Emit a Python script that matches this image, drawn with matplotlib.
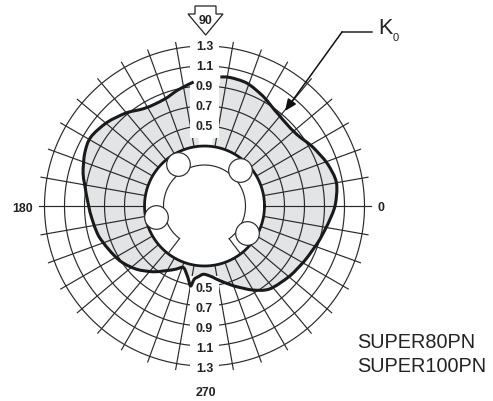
import numpy as np
import matplotlib
matplotlib.use("Agg")
import matplotlib.pyplot as plt
from matplotlib.patches import PathPatch, Polygon
from matplotlib.path import Path

FONT = ['Liberation Sans', 'DejaVu Sans']

# K0 curve, counter clockwise from just left of 90 deg
angles = [95, 103, 111, 121, 130, 139.5, 149, 156, 165, 173.5, 183, 196, 213, 223, 232,
          246, 251, 255.4, 258, 260.2, 262, 265, 269, 274, 279.5, 290, 300, 308, 321, 331,
          344, 352, 360, 370, 379, 389, 399, 411, 422, 431, 439, 443]
k0 = [0.945, 0.89, 0.84, 0.844, 0.916, 0.985, 1.03, 1.01, 0.957, 0.893, 0.847, 0.80, 0.708, 0.628, 0.535,
      0.39, 0.351, 0.406, 0.46, 0.512, 0.44, 0.41, 0.383, 0.40, 0.443, 0.55, 0.671, 0.754, 0.805, 0.84,
      0.902, 0.949, 1.005, 1.04, 1.0, 0.93, 0.865, 0.877, 0.945, 1.0, 1.01, 1.0]
rings = [0.5, 0.7, 0.9, 1.1, 1.3]
spokes = [a for a in range(0, 360, 10) if a not in (90, 270)]
bolt_angles = [122, 45.4, 193, 327.8]
bolt_r = 0.2


def smooth_path(x, y):
    # bezier through the read points, so the curve is not a polygon
    pts = np.column_stack([x, y])
    verts = [pts[0]]
    codes = [Path.MOVETO]
    for i in range(len(pts) - 1):
        p0 = pts[max(i - 1, 0)]
        p1 = pts[i]
        p2 = pts[i + 1]
        p3 = pts[min(i + 2, len(pts) - 1)]
        verts += [p1 + (p2 - p0) / 6, p2 - (p3 - p1) / 6, p2]
        codes += [Path.CURVE4] * 3
    return np.array(verts), codes


fig = plt.figure(figsize=(4.93, 4.02), dpi=100)
rmax_px = 170
ax = fig.add_axes([(204.5 - rmax_px) / 493, (402 - 207 - rmax_px) / 402,
                   2 * rmax_px / 493, 2 * rmax_px / 402], projection='polar')
ax.set_rlim(-0.3, 1.4)
ax.axis('off')

th = np.radians(angles)
full = np.radians(np.linspace(0, 360, 361))
verts, codes = smooth_path(th, k0)

# gray area between the hub ring and the curve
back = np.column_stack([np.linspace(th[-1], th[0], 200), np.full(200, 0.3)])
fill_verts = np.vstack([verts, back])
fill_codes = codes + [Path.LINETO] * 200
ax.add_patch(PathPatch(Path(fill_verts, fill_codes), facecolor='#e3e4e6', lw=0, zorder=1))

for r in rings:
    ax.plot(full, np.full_like(full, r), color='#2a2a2a', lw=0.85, zorder=2)
for a in spokes:
    ax.plot(np.radians([a, a]), [0.3, 1.36], color='#2a2a2a', lw=0.85, zorder=2)

ax.plot(full, np.full_like(full, 0.3), color='#1a1a1a', lw=2.0, zorder=3)

# hub outline with the slot
hub = np.radians(np.linspace(-53, 232.5, 200))
ax.plot(hub, np.full_like(hub, 0.11), color='#2a2a2a', lw=0.85, zorder=3)
ax.plot(np.radians([232.5, 232.5]), [0.11, 0.3], color='#2a2a2a', lw=0.85, zorder=3)
ax.plot(np.radians([307, 307]), [0.11, 0.3], color='#2a2a2a', lw=0.85, zorder=3)
ax.scatter(np.radians(bolt_angles), [bolt_r] * 4, s=290, facecolor='white', edgecolor='#2a2a2a',
           linewidth=0.85, zorder=4)

# ring labels on both vertical axes
box = dict(facecolor='white', edgecolor='none', pad=4.5)
for r in rings:
    ax.text(np.radians(90), r, f'{r:.1f}', ha='center', va='center', family=FONT,
            fontsize=8.9, fontweight='bold', color='#222222', bbox=box, zorder=5)
    ax.text(np.radians(270), r + 0.025, f'{r:.1f}', ha='center', va='center', family=FONT,
            fontsize=8.9, fontweight='bold', color='#222222', bbox=box, zorder=5)

ax.add_patch(PathPatch(Path(verts, codes), facecolor='none', edgecolor='#1a1a1a', lw=2.2,
                       capstyle='butt', zorder=6))

# overlay in pixels for the annotations
ov = fig.add_axes([0, 0, 1, 1])
ov.set_xlim(0, 493)
ov.set_ylim(402, 0)
ov.axis('off')
ov.patch.set_alpha(0)

lab = dict(family=FONT, fontweight='bold', color='#222222', ha='center', va='center', fontsize=8.9)
ov.text(23, 209, '180', **lab)
ov.text(381, 208, '0', **lab)
ov.text(206, 393, '270', **lab)
ov.add_patch(Polygon([(195, 7), (216, 7), (216, 15), (223, 15), (205.7, 36), (188, 15), (195, 15)],
                     closed=True, facecolor='white', edgecolor='#222222', lw=0.9, zorder=1))
ov.text(205.5, 21, '90', zorder=2, **lab)

ov.plot([372, 342], [33, 33], color='#222222', lw=1.1)
ov.annotate('', xy=(285, 112), xytext=(342, 33),
            arrowprops=dict(arrowstyle='-|>,head_length=0.7,head_width=0.3', color='#111111',
                            lw=1.1, shrinkA=0, shrinkB=0))
ov.text(378, 29, 'K', family=FONT, fontsize=15.5, color='#222222', va='center', ha='left')
ov.text(393, 38, '0', family=FONT, fontsize=8, color='#222222', va='center', ha='left')

ov.text(357, 343, 'SUPER80PN', family=FONT, fontsize=14.3, color='#222222', va='center', ha='left')
ov.text(357, 367, 'SUPER100PN', family=FONT, fontsize=14.3, color='#222222', va='center', ha='left')

fig.savefig('out.png', dpi=100)
